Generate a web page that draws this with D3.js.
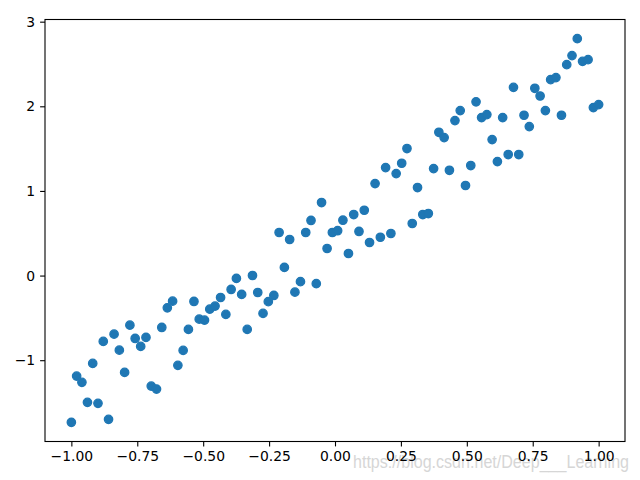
<!DOCTYPE html>
<html><head><meta charset="utf-8">
<script src="https://cdn.jsdelivr.net/npm/d3@7"></script>
<style>body{margin:0;background:#fff}svg{display:block}</style>
</head><body>
<script>
const xValues = [-1.000,-0.980,-0.960,-0.939,-0.919,-0.899,-0.879,-0.859,-0.838,-0.818,
-0.798,-0.778,-0.758,-0.737,-0.717,-0.697,-0.677,-0.657,-0.636,-0.616,
-0.596,-0.576,-0.556,-0.535,-0.515,-0.495,-0.475,-0.455,-0.434,-0.414,
-0.394,-0.374,-0.354,-0.333,-0.313,-0.293,-0.273,-0.253,-0.232,-0.212,
-0.192,-0.172,-0.152,-0.131,-0.111,-0.091,-0.071,-0.051,-0.030,-0.010,
0.010,0.030,0.051,0.071,0.091,0.111,0.131,0.152,0.172,0.192,
0.212,0.232,0.253,0.273,0.293,0.313,0.333,0.354,0.374,0.394,
0.414,0.434,0.455,0.475,0.495,0.515,0.535,0.556,0.576,0.596,
0.616,0.636,0.657,0.677,0.697,0.717,0.737,0.758,0.778,0.798,
0.818,0.838,0.859,0.879,0.899,0.919,0.939,0.960,0.980,1.000];
const yValues = [-1.734,-1.188,-1.262,-1.498,-1.038,-1.510,-0.778,-1.699,-0.692,-0.881,
-1.144,-0.586,-0.743,-0.837,-0.731,-1.306,-1.341,-0.613,-0.381,-0.302,
-1.061,-0.884,-0.636,-0.306,-0.515,-0.527,-0.397,-0.361,-0.259,-0.459,
-0.164,-0.034,-0.223,-0.636,0.001,-0.200,-0.447,-0.308,-0.235,0.509,
0.096,0.426,-0.196,-0.072,0.509,0.651,-0.096,0.863,0.320,0.509,
0.530,0.654,0.261,0.721,0.521,0.772,0.391,1.087,0.453,1.276,
0.497,1.205,1.327,1.501,0.615,1.040,0.721,0.733,1.264,1.693,
1.630,1.244,1.831,1.949,1.064,1.300,2.053,1.867,1.902,1.607,
1.347,1.867,1.430,2.224,1.430,1.894,1.760,2.213,2.122,1.949,
2.315,2.339,1.894,2.492,2.599,2.799,2.531,2.551,1.985,2.020];
const xTicks = [-1.00,-0.75,-0.50,-0.25,0.00,0.25,0.50,0.75,1.00];
const yTicks = [-1,0,1,2,3];
const watermark = "https://blog.csdn.net/Deep___Learning";

const W = 640, H = 480;
const L = 45, R = 625, T = 19.5, B = 441.5;
const svg = d3.select("body").append("svg").attr("width", W).attr("height", H);

function padded(ext){ const p = (ext[1]-ext[0])*0.05; return [ext[0]-p, ext[1]+p]; }
const x = d3.scaleLinear().domain(padded(d3.extent(xValues))).range([L, R]);
const y = d3.scaleLinear().domain(padded(d3.extent(yValues))).range([B, T]);

const font = "DejaVu Sans, sans-serif";

svg.append("text").attr("x", 353).attr("y", 468).text(watermark)
  .attr("textLength", 276).attr("lengthAdjust", "spacingAndGlyphs")
  .attr("fill", "#d6d6d6")
  .style("font-family", "Liberation Sans, Arial, sans-serif").style("font-size", "17.5px");

const xAxis = svg.append("g").attr("transform", `translate(0,${B})`)
  .call(d3.axisBottom(x).tickValues(xTicks).tickFormat(d3.format(".2f")).tickSize(4.9).tickPadding(4.9));
const yAxis = svg.append("g").attr("transform", `translate(${L},0)`)
  .call(d3.axisLeft(y).tickValues(yTicks).tickFormat(d3.format("d")).tickSize(4.9).tickPadding(4.9));
[xAxis, yAxis].forEach(g => {
  g.select(".domain").remove();
  g.selectAll(".tick line").attr("stroke", "#000").attr("stroke-width", 1.1);
  g.selectAll(".tick text").attr("fill", "#000").style("font-family", font).style("font-size", "13.9px");
});

svg.append("g").selectAll("circle").data(xValues).join("circle")
  .attr("cx", (d) => x(d)).attr("cy", (d, i) => y(yValues[i]))
  .attr("r", 4.2).attr("fill", "#1f77b4").attr("stroke", "#1f77b4").attr("stroke-width", 1.3);

svg.append("rect").attr("x", L).attr("y", T).attr("width", R - L).attr("height", B - T)
  .attr("fill", "none").attr("stroke", "#000").attr("stroke-width", 1.1);
</script>
</body></html>
